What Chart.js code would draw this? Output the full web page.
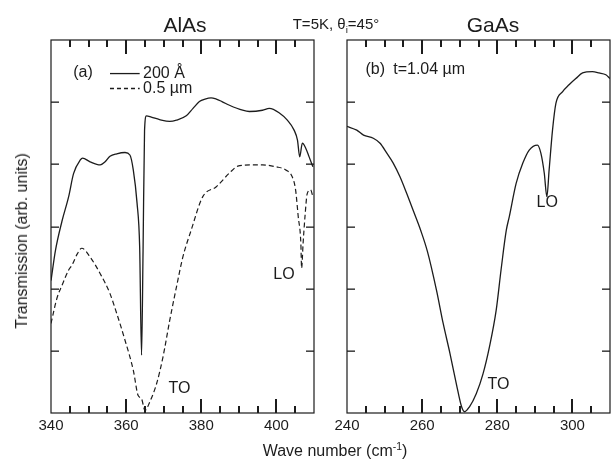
<!DOCTYPE html>
<html>
<head>
<meta charset="utf-8">
<title>AlAs / GaAs transmission</title>
<script src="https://cdn.jsdelivr.net/npm/chart.js@4.4.0/dist/chart.umd.min.js"></script>
<style>
    html, body { margin: 0; padding: 0; background: #fff; }
    #wrap {
        position: relative; width: 611px; height: 461px; overflow: hidden;
        font-family: "Liberation Sans", Arial, sans-serif; color: #1c1c1c;
    }
    .box { position: absolute; top: 0; height: 461px; }
    #boxA { left: 0; width: 330px; }
    #boxB { left: 330px; width: 281px; }
    .lbl { position: absolute; white-space: nowrap; line-height: 1; transform: translate(-50%, -50%); }
    .lbl sup, .lbl sub { font-size: 65%; line-height: 0; }
</style>
</head>
<body>
<div id="wrap">
    <div class="box" id="boxA"><canvas id="chartA"></canvas></div>
    <div class="box" id="boxB"><canvas id="chartB"></canvas></div>

    <div class="lbl" style="left:185px; top:24px; font-size:21px;">AlAs</div>
    <div class="lbl" style="left:336px; top:23px; font-size:15px;">T=5K, &theta;<sub>i</sub>=45&deg;</div>
    <div class="lbl" style="left:493px; top:24px; font-size:21px;">GaAs</div>
    <div class="lbl" style="left:22px; top:241px; font-size:16px; transform: translate(-50%, -50%) rotate(-90deg);">Transmission (arb. units)</div>
    <div class="lbl" style="left:335px; top:451px; font-size:16px;">Wave number (cm<sup>-1</sup>)</div>
</div>

<script>
// ---- data ----
// (a) AlAs, 200 Å layer (solid)
const alasWave200 = [340.0, 341.2, 342.9, 344.7, 346.0, 347.8, 348.4, 350.4, 353.1, 354.4,
    355.7, 357.5, 359.7, 361.0, 361.9, 362.9, 363.6, 364.1, 364.5, 364.9,
    365.4, 366.7, 368.9, 371.6, 373.4, 376.0, 377.8, 379.5, 381.0, 382.6,
    384.0, 385.5, 387.5, 391.0, 392.8, 396.3, 398.1, 400.7, 402.9, 404.7,
    405.6, 406.2, 406.9, 407.8, 408.7, 409.7];
const alasTrans200 = [2.13, 2.62, 3.08, 3.48, 3.85, 4.07, 4.10, 4.04, 3.99, 4.04,
    4.13, 4.17, 4.19, 4.15, 3.91, 3.38, 2.67, 0.93, 2.60, 4.55,
    4.78, 4.76, 4.72, 4.69, 4.71, 4.78, 4.90, 5.01, 5.05, 5.07,
    5.05, 5.01, 4.95, 4.87, 4.85, 4.87, 4.90, 4.83, 4.71, 4.55,
    4.39, 4.12, 4.34, 4.26, 4.12, 3.96];

// (a) AlAs, 0.5 µm layer (dashed)
const alasWave05 = [340.0, 341.6, 342.9, 344.7, 345.6, 347.0, 348.2, 350.4, 353.1, 355.7,
    357.5, 359.7, 361.9, 363.2, 364.1, 365.0, 366.3, 368.1, 369.8, 371.6,
    373.4, 375.1, 377.3, 380.4, 384.0, 387.5, 389.7, 393.0, 396.3, 399.9,
    402.5, 404.2, 405.1, 405.8, 406.5, 406.7, 407.1, 407.6, 408.2, 409.1,
    409.7];
const alasTrans05 = [1.44, 1.85, 2.05, 2.30, 2.38, 2.56, 2.65, 2.51, 2.24, 1.92,
    1.60, 1.17, 0.69, 0.28, 0.23, 0.04, 0.18, 0.47, 0.90, 1.49,
    2.03, 2.51, 2.94, 3.48, 3.64, 3.86, 3.97, 3.99, 3.99, 3.96,
    3.91, 3.80, 3.59, 3.16, 2.73, 2.33, 2.73, 3.16, 3.53, 3.59,
    3.48];

// (b) GaAs, t = 1.04 µm
const gaasWave = [240.0, 242.6, 244.4, 247.0, 248.8, 250.6, 252.3, 254.1, 255.9, 257.6,
    259.6, 261.4, 263.8, 265.6, 267.4, 269.1, 270.5, 271.3, 272.6, 274.4,
    276.2, 277.9, 279.7, 281.0, 282.4, 283.2, 285.0, 286.8, 288.5, 290.7,
    291.6, 292.5, 293.2, 293.8, 294.7, 295.6, 297.4, 299.1, 300.9, 302.7,
    305.3, 307.1, 308.9, 310.0];
const gaasTrans = [4.61, 4.55, 4.47, 4.42, 4.34, 4.18, 4.02, 3.80, 3.53, 3.26,
    2.94, 2.60, 1.98, 1.44, 0.96, 0.47, 0.10, 0.02, 0.10, 0.31,
    0.63, 1.06, 1.65, 2.30, 2.94, 3.16, 3.69, 4.02, 4.23, 4.31,
    4.18, 3.86, 3.48, 3.91, 4.55, 4.98, 5.17, 5.28, 5.38, 5.47,
    5.49, 5.47, 5.44, 5.38];

const alasTickLabels = [340, 360, 380, 400];
const gaasTickLabels = [240, 260, 280, 300];
const transTicks = [1, 2, 3, 4, 5];
const minorStep = 5;   // cm-1 between small ticks
const majorStep = 20;  // cm-1 between long ticks

// ---- styling ----
const INK = '#1c1c1c';
const FONT = '"Liberation Sans", Arial, sans-serif';

function toPoints(xs, ys) {
    return xs.map((x, i) => ({ x: x, y: ys[i] }));
}

// frame, inward ticks, tick labels and in-panel notes
function panelDecor(tickLabels, notes) {
    return {
        id: 'panelDecor',
        afterDatasetsDraw(chart) {
            const { ctx, chartArea: a } = chart;
            const x = chart.scales.x, y = chart.scales.y;
            ctx.save();
            ctx.setLineDash([]);
            ctx.strokeStyle = INK;
            ctx.lineWidth = 1.2;
            ctx.strokeRect(a.left, a.top, a.right - a.left, a.bottom - a.top);

            // tick marks as thin filled bars (inside the frame)
            ctx.fillStyle = INK;
            for (let i = 1; x.min + i * minorStep < x.max; i++) {
                const v = x.min + i * minorStep;
                const px = Math.round(x.getPixelForValue(v));
                const len = v % majorStep === 0 ? 14 : 7;
                ctx.fillRect(px - 1, a.bottom - len, 2, len);
                ctx.fillRect(px - 1, a.top, 2, len);
            }
            transTicks.forEach(v => {
                const py = Math.round(y.getPixelForValue(v));
                ctx.fillRect(a.left, py - 0.5, 8, 1.3);
                ctx.fillRect(a.right - 8, py - 0.5, 8, 1.3);
            });

            ctx.textBaseline = 'middle';
            ctx.font = '15px ' + FONT;
            ctx.textAlign = 'center';
            tickLabels.forEach(v => ctx.fillText(String(v), x.getPixelForValue(v), a.bottom + 13));

            notes.forEach(n => {
                const px = x.getPixelForValue(n.x), py = y.getPixelForValue(n.y);
                if (n.line) {
                    ctx.beginPath();
                    ctx.setLineDash(n.dash || []);
                    ctx.lineWidth = 1.3;
                    ctx.moveTo(px, py);
                    ctx.lineTo(x.getPixelForValue(n.x2), py);
                    ctx.stroke();
                    ctx.setLineDash([]);
                    return;
                }
                ctx.font = (n.size || 16) + 'px ' + FONT;
                ctx.textAlign = n.align || 'center';
                ctx.fillText(n.text, px, py);
            });
            ctx.restore();
        }
    };
}

function makePanel(canvasId, xMin, xMax, datasets, pad, tickLabels, notes) {
    return new Chart(document.getElementById(canvasId), {
        type: 'line',
        data: { datasets: datasets },
        options: {
            responsive: true,
            maintainAspectRatio: false,
            animation: false,
            events: [],
            layout: { padding: pad },
            plugins: { legend: { display: false }, tooltip: { enabled: false } },
            elements: { point: { radius: 0 }, line: { cubicInterpolationMode: 'monotone' } },
            scales: {
                x: { type: 'linear', min: xMin, max: xMax, display: false },
                y: { min: 0, max: 6, display: false }
            }
        },
        plugins: [panelDecor(tickLabels, notes)]
    });
}

makePanel('chartA', 340, 410, [
    { data: toPoints(alasWave200, alasTrans200), borderColor: INK, borderWidth: 1.3 },
    { data: toPoints(alasWave05, alasTrans05), borderColor: INK, borderWidth: 1.2, borderDash: [5, 3] }
], { left: 51, right: 16, top: 40, bottom: 48 }, alasTickLabels, [
    { text: '(a)', x: 348.5, y: 5.48 },
    { line: true, x: 355.7, x2: 363.6, y: 5.46 },
    { text: '200 Å', x: 364.5, y: 5.46, align: 'left' },
    { line: true, x: 355.7, x2: 363.6, y: 5.22, dash: [4, 3] },
    { text: '0.5 µm', x: 364.5, y: 5.22, align: 'left' },
    { text: 'TO', x: 374.2, y: 0.40 },
    { text: 'LO', x: 402.0, y: 2.22 }
]);

makePanel('chartB', 240, 310, [
    { data: toPoints(gaasWave, gaasTrans), borderColor: INK, borderWidth: 1.3 }
], { left: 17, right: 1, top: 40, bottom: 48 }, gaasTickLabels, [
    { text: '(b)', x: 247.5, y: 5.52 },
    { text: 't=1.04 µm', x: 252.3, y: 5.52, align: 'left' },
    { text: 'LO', x: 293.3, y: 3.38 },
    { text: 'TO', x: 280.3, y: 0.45 }
]);
</script>
</body>
</html>
